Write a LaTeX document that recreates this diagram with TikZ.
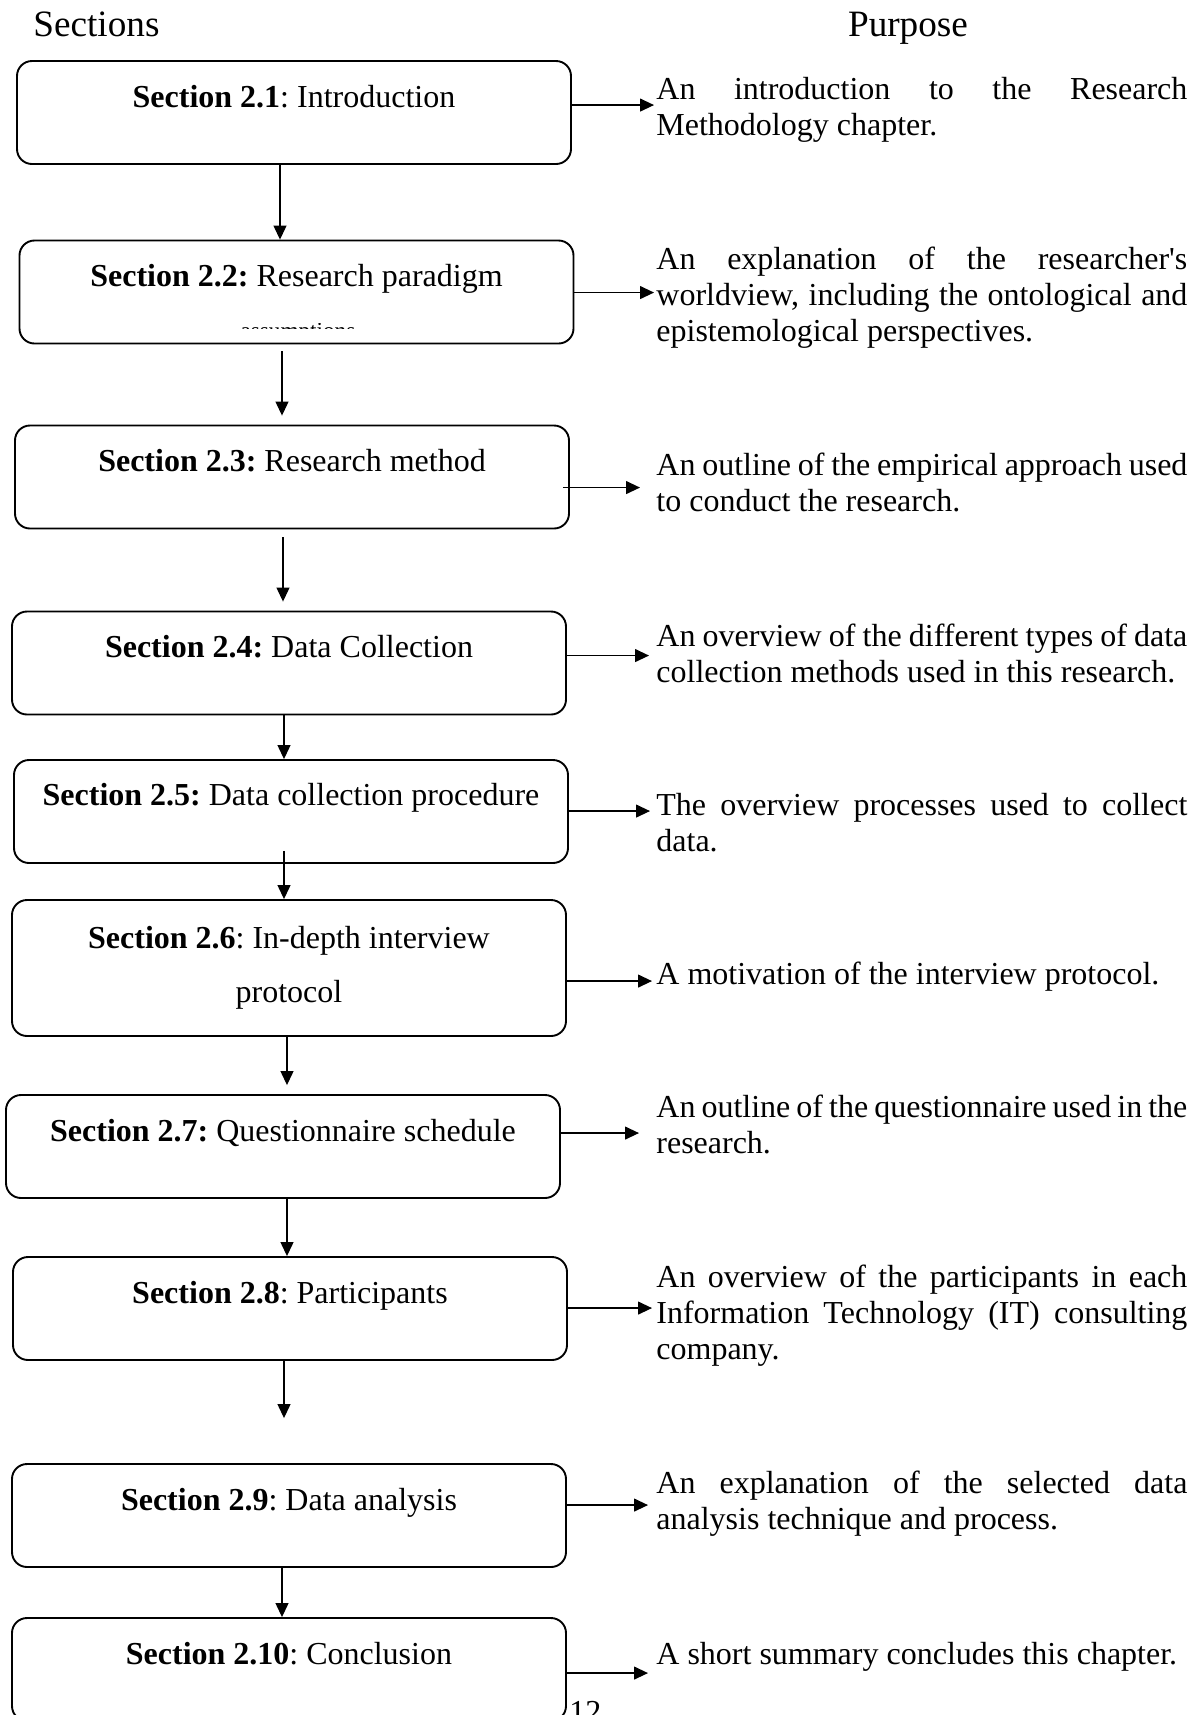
\documentclass[tikz,border=0pt]{standalone}
\usepackage{fontspec}
\setmainfont{Liberation Serif}
\usetikzlibrary{arrows.meta,calc}
\frenchspacing

% one fully justified line of a purpose paragraph
\newcommand\jl[1]{\makebox[265.5pt][s]{\spaceskip=0pt\xspaceskip=0pt\relax #1}\\}

\begin{document}
\begin{tikzpicture}[x=0.5pt,y=-0.5pt,
  secbox/.style={draw, line width=0.95pt, rounded corners=7.5pt,
    minimum width=277pt, minimum height=51.5pt, inner sep=0pt},
  sectext/.style={anchor=base, inner sep=0pt,
    font=\fontsize{16pt}{18.5pt}\selectfont},
  purpose/.style={anchor=base west, inner sep=0pt, text width=265.5pt,
    align=left, font=\fontsize{16pt}{18.2pt}\selectfont,
    execute at begin node={\spaceskip=0pt\xspaceskip=0pt\relax}},
  head/.style={inner sep=0pt, font=\fontsize{18.6pt}{22pt}\selectfont},
  arr/.style={line width=0.6pt, -{Triangle[length=7pt,width=6.5pt]}}
]
\clip (0,0) rectangle (1199,1715);

% column headings
\node[head, anchor=base west] (hs) at (33,36) {Sections};
\node[head, anchor=base] (hp) at (908,36) {Purpose};

% section boxes
\node[secbox] (b1) at (294,112.5) {};
\node[secbox] (b2) at (296.5,292) {};
\node[secbox] (b3) at (292,477) {};
\node[secbox] (b4) at (289,663) {};
\node[secbox] (b5) at (291,811.5) {};
\node[secbox, minimum height=68pt] (b6) at (289,968) {};
\node[secbox] (b7) at (283,1146.5) {};
\node[secbox] (b8) at (290,1308.5) {};
\node[secbox] (b9) at (289,1515.5) {};
\node[secbox] (b10) at (289,1669.5) {};

% box titles
\node[sectext] (t1) at (294,107) {\textbf{Section 2.1}: Introduction};
\node[sectext] (t2) at (296.5,286) {\textbf{Section 2.2:} Research paradigm};
\node[sectext] (t3) at (292,471) {\textbf{Section 2.3:} Research method};
\node[sectext] (t4) at (289,657) {\textbf{Section 2.4:} Data Collection};
\node[sectext] (t5) at (291,805) {\textbf{Section 2.5:} Data collection procedure};
\node[sectext, align=center, font=\fontsize{16pt}{27pt}\selectfont] (t6) at (289,1002)
  {\textbf{Section 2.6}: In-depth interview\\protocol};
\node[sectext] (t7) at (283,1141) {\textbf{Section 2.7:} Questionnaire schedule};
\node[sectext] (t8) at (290,1303) {\textbf{Section 2.8}: Participants};
\node[sectext] (t9) at (289,1510) {\textbf{Section 2.9}: Data analysis};
\node[sectext] (t10) at (289,1664) {\textbf{Section 2.10}: Conclusion};

% second title line of box 2.2, cut off by the box layout
\begin{scope}
  \clip (200,323) rectangle (400,328.5);
  \node[sectext, font=\fontsize{11.6pt}{14pt}\selectfont] (t2b) at (298,338) {assumptions};
\end{scope}

% purpose paragraphs
\node[purpose] (p1) at (656,99)
  {\jl{An introduction to the Research}Methodology chapter.};
\node[purpose] (p2) at (656,269)
  {\jl{An explanation of the researcher\textquotesingle s}\jl{worldview, including the ontological and}epistemological perspectives.};
\node[purpose] (p3) at (656,475)
  {\jl{An outline of the empirical approach used}to conduct the research.};
\node[purpose] (p4) at (656,646)
  {\jl{An overview of the different types of data}collection methods used in this research.};
\node[purpose] (p5) at (656,815)
  {\jl{The overview processes used to collect}data.};
\node[purpose] (p6) at (656,984)
  {A motivation of the interview protocol.};
\node[purpose] (p7) at (656,1117)
  {\jl{An outline of the questionnaire used in the}research.};
\node[purpose] (p8) at (656,1287)
  {\jl{An overview of the participants in each}\jl{Information Technology (IT) consulting}company.};
\node[purpose] (p9) at (656,1493)
  {\jl{An explanation of the selected data}analysis technique and process.};
\node[purpose] (p10) at (656,1664)
  {A short summary concludes this chapter.};

% page number
\node[sectext, anchor=base west] (pg) at (569,1722) {12};

% vertical flow
\coordinate (v1) at (280,0);
\coordinate (v2) at (282,0);
\coordinate (v3) at (283,0);
\coordinate (v4) at (284,0);
\coordinate (v6) at (287,0);
\draw[arr] (b1.south -| v1) -- (b2.north -| v1);
\draw[arr] ($(b2.south -| v2)+(0,7)$) -- ($(b3.north -| v2)+(0,-9)$);
\draw[arr] ($(b3.south -| v3)+(0,8)$) -- ($(b4.north -| v3)+(0,-9)$);
\draw[arr] (b4.south -| v4) -- (b5.north -| v4);
\draw[arr] ($(b5.south -| v4)+(0,-13)$) -- (b6.north -| v4);
\draw[arr] (b6.south -| v6) -- ($(b7.north -| v6)+(0,-9)$);
\draw[arr] (b7.south -| v6) -- (b8.north -| v6);
\draw[arr] (b8.south -| v4) -- ($(b9.north -| v4)+(0,-45)$);
\draw[arr] (b9.south -| v2) -- (b10.north -| v2);

% links to purposes
\coordinate (h1) at ($(b1.north east)+(0,45)$);
\coordinate (h2) at ($(b2.north east)+(0,53)$);
\coordinate (h3) at ($(b3.north east)+(-7,63)$);
\coordinate (h4) at ($(b4.north east)+(0,45)$);
\coordinate (h5) at ($(b5.north east)+(0,52)$);
\coordinate (h6) at ($(b6.north east)+(0,82)$);
\coordinate (h7) at ($(b7.north east)+(0,39)$);
\coordinate (h8) at ($(b8.north east)+(0,52)$);
\coordinate (h9) at ($(b9.north east)+(0,42)$);
\coordinate (h10) at ($(b10.north east)+(0,56)$);
\draw[arr] (h1) -- ([xshift=-1pt]p1.west |- h1);
\draw[arr] (h2) -- ([xshift=-1pt]p2.west |- h2);
\draw[arr] (h3) -- ([xshift=-8pt]p3.west |- h3);
\draw[arr] (h4) -- ([xshift=-3.5pt]p4.west |- h4);
\draw[arr] (h5) -- ([xshift=-3pt]p5.west |- h5);
\draw[arr] (h6) -- ([xshift=-2pt]p6.west |- h6);
\draw[arr] (h7) -- ([xshift=-8.5pt]p7.west |- h7);
\draw[arr] (h8) -- ([xshift=-2pt]p8.west |- h8);
\draw[arr] (h9) -- ([xshift=-4pt]p9.west |- h9);
\draw[arr] (h10) -- ([xshift=-4pt]p10.west |- h10);
\end{tikzpicture}
\end{document}
